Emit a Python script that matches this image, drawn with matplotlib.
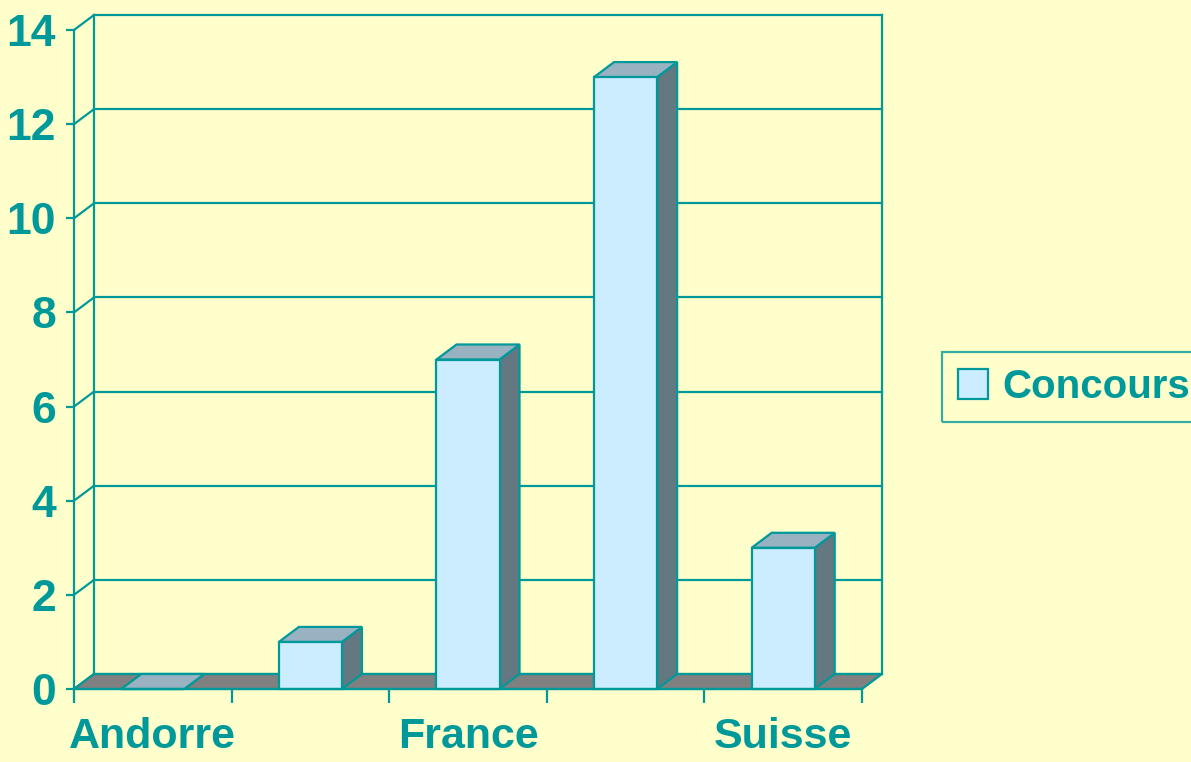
import numpy as np
import matplotlib.pyplot as plt
from matplotlib.patches import Polygon, Patch

plt.rcParams.update({
    "font.family": ["Liberation Sans Narrow", "Liberation Sans", "DejaVu Sans"],
    "font.weight": "bold",
})

# data
categories = ["Andorre", "", "France", "", "Suisse"]
concours = [0, 1, 7, 13, 3]
yticks = [0, 2, 4, 6, 8, 10, 12, 14]

teal = "#009999"
bg = "#FFFFCC"
face = "#CCECFF"
top_c = "#99B2C2"
side_c = "#637880"
floor_c = "#808080"

W, H = 1191, 762
fig = plt.figure(figsize=(W / 100, H / 100), dpi=100, facecolor=bg)
ax = fig.add_axes([74 / W, 73 / H, 788 / W, 659 / H])
ax.patch.set_visible(False)
n = len(categories)
ax.set_xlim(0, n)
ax.set_ylim(0, 14)

# 3d depth offset (data units)
dx = 20 / (788 / n)
dy = 15 / (659 / 14)
lw = 1.6

# back wall + left wall
for y in yticks:
    ax.plot([dx, n + dx], [y + dy, y + dy], color=teal, lw=lw, clip_on=False, zorder=1)
    ax.plot([0, dx], [y, y + dy], color=teal, lw=lw, clip_on=False, zorder=1)
ax.plot([dx, dx], [dy, 14 + dy], color=teal, lw=lw, clip_on=False, zorder=1)
ax.plot([n + dx, n + dx], [dy, 14 + dy], color=teal, lw=lw, clip_on=False, zorder=1)

# floor
ax.add_patch(Polygon([(0, 0), (n, 0), (n + dx, dy), (dx, dy)], closed=True,
                     facecolor=floor_c, edgecolor=teal, lw=lw, clip_on=False, zorder=2))

# bars
w = 0.40
centers = np.arange(n) + 0.5
ax.bar(centers, concours, width=w, color=face, edgecolor=teal, lw=lw, zorder=4, clip_on=False)
for c, v in zip(centers, concours):
    x0, x1 = c - w / 2, c + w / 2
    ax.add_patch(Polygon([(x1, 0), (x1 + dx, dy), (x1 + dx, v + dy), (x1, v)], closed=True,
                         facecolor=side_c, edgecolor=teal, lw=lw, clip_on=False, zorder=3))
    ax.add_patch(Polygon([(x0, v), (x1, v), (x1 + dx, v + dy), (x0 + dx, v + dy)], closed=True,
                         facecolor=top_c, edgecolor=teal, lw=lw, clip_on=False, zorder=3))

# axes
for s in ["top", "right"]:
    ax.spines[s].set_visible(False)
for s in ["left", "bottom"]:
    ax.spines[s].set_color(teal)
    ax.spines[s].set_linewidth(lw)
    ax.spines[s].set_zorder(5)

ax.set_yticks(yticks)
ax.tick_params(axis="y", colors=teal, length=6, width=lw, pad=7, labelsize=32)
ax.set_xticks(range(n + 1))
ax.set_xticklabels([])
ax.set_xticks(centers, minor=True)
ax.set_xticklabels(categories, minor=True)
ax.tick_params(axis="x", which="major", colors=teal, length=10, width=lw)
ax.tick_params(axis="x", which="minor", length=0, pad=20, labelsize=31, labelcolor=teal)

leg = fig.legend(handles=[Patch(facecolor=face, edgecolor=teal, lw=lw)], labels=["Concours"],
                 loc="center left", bbox_to_anchor=(942 / W, (H - 387) / H),
                 frameon=True, fancybox=False, edgecolor=teal, facecolor="none",
                 borderpad=0.4, handlelength=0.75, handleheight=0.75, handletextpad=0.35,
                 borderaxespad=0, prop={"size": 29, "weight": "bold"}, labelcolor=teal)
leg.get_frame().set_linewidth(lw)

plt.savefig("out.png", dpi=100, facecolor=bg)
